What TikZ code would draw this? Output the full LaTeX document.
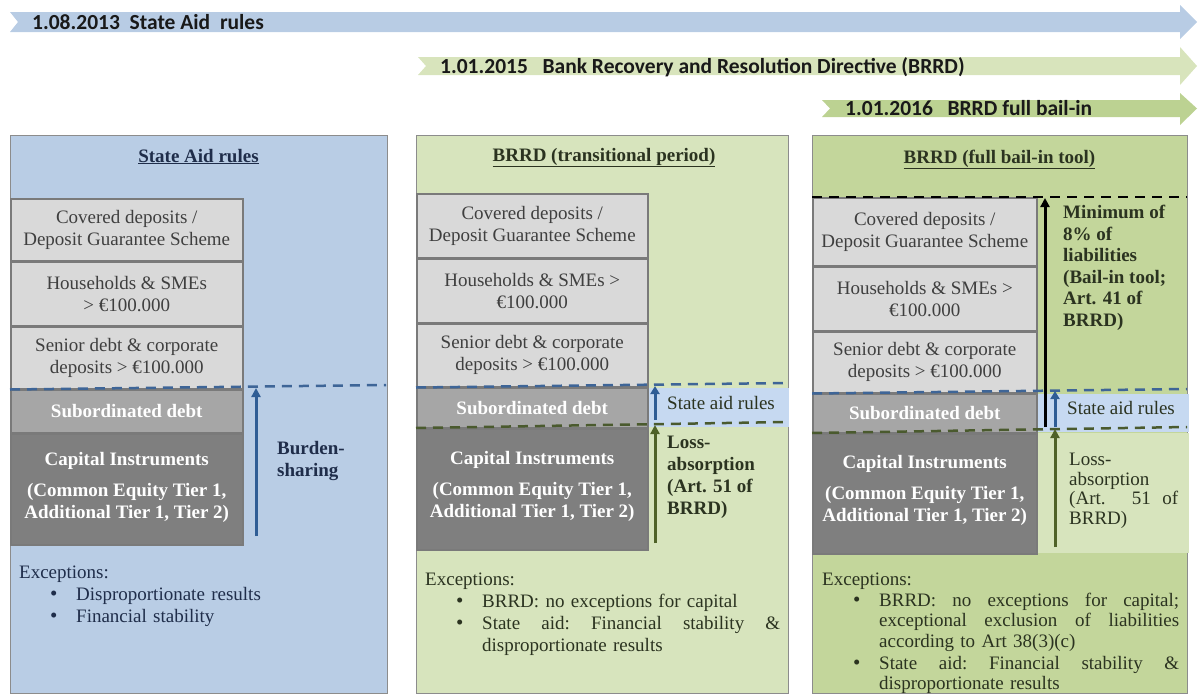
\documentclass[tikz,border=0pt]{standalone}
\usepackage{fontspec}
\setmainfont{Liberation Serif}
\newfontfamily\bannerfont{Carlito}
\usetikzlibrary{arrows.meta}
\definecolor{pblue}{HTML}{B9CDE5}
\definecolor{pgreen}{HTML}{D7E4BD}
\definecolor{pgreenD}{HTML}{C3D69B}
\definecolor{bandblue}{HTML}{C6D9F1}
\definecolor{lgray}{HTML}{D9D9D9}
\definecolor{mgray}{HTML}{A6A6A6}
\definecolor{dgray}{HTML}{7F7F7F}
\definecolor{bord}{HTML}{7A7A7A}
\definecolor{pbord}{HTML}{8C8C8C}
\definecolor{stacktext}{HTML}{3F3F3F}
\definecolor{navytext}{HTML}{1F2D4A}
\definecolor{olivetext}{HTML}{2B3320}
\definecolor{dashblue}{HTML}{3E6597}
\definecolor{dashgreen}{HTML}{4A5A2E}
\definecolor{arrowblue}{HTML}{2F5D95}
\definecolor{arrowgreen}{HTML}{4F6228}
\definecolor{ban1}{HTML}{B8CCE4}
\definecolor{ban2}{HTML}{D8E4BC}
\definecolor{ban3}{HTML}{BCD292}
\newcommand\exitem[2]{\par\noindent\hbox to 57pt{\hskip 31pt\relax{\fontsize{21}{22}\selectfont\textbullet}\hfil}\parbox[t]{#1}{\hyphenpenalty=10000\relax\tolerance=10000\relax\strut #2\strut}}
\newcommand\exstart{\lineskip=0pt\relax\lineskiplimit=0pt\relax}
\newcommand\jline[2]{\hbox to #1{#2}}
\begin{document}
\begin{tikzpicture}[x=1pt,y=-1pt,
  bodyfont/.style={font=\fontsize{19}{22}\selectfont},
  bantext/.style={font=\bannerfont\bfseries\fontsize{21.5}{24}\selectfont, text=black!90, inner sep=0pt},
  panelbox/.style={draw=pbord, line width=1.2pt, anchor=north west, inner sep=0pt},
  titletext/.style={font=\bfseries\fontsize{19}{22}\selectfont, inner sep=0pt, anchor=base},
  layerbox/.style={bodyfont, draw=bord, line width=1.5pt, align=center, anchor=north west, inner sep=0pt},
  ltbox/.style={layerbox, fill=lgray, text=stacktext},
  subbox/.style={layerbox, fill=mgray, text=white, font=\bfseries\fontsize{19}{22}\selectfont},
  capbox/.style={layerbox, fill=dgray, text=white, font=\bfseries\fontsize{19}{22}\selectfont},
  bandbox/.style={fill=bandblue, anchor=north west, inner sep=0pt},
  dline/.style={line width=2.5pt, dash pattern=on 10pt off 7pt},
  upar/.style={line width=3pt, -{Triangle[length=9pt,width=9pt]}},
  notetext/.style={bodyfont, inner sep=0pt, anchor=north west, align=left},
  exctext/.style={bodyfont, inner sep=0pt, anchor=north west}
]
\useasboundingbox (0,0) rectangle (1198,696);

% ---------- timeline banners ----------
\fill[ban1] (10,12) -- (1180,12) -- (1180,5) -- (1197,22) -- (1180,39) -- (1180,32) -- (10,32) -- (18,22) -- cycle;
\node[bantext, anchor=base west] (b1) at (32,29) {1.08.2013\ \ State Aid\ \ rules};
\fill[ban2] (418,57) -- (1180,57) -- (1180,47) -- (1197,66) -- (1180,85) -- (1180,75) -- (418,75) -- (426,66) -- cycle;
\node[bantext, anchor=base west] (b2) at (440,73) {1.01.2015\ \ \ Bank Recovery and Resolution Directive (BRRD)};
\fill[ban3] (822,100) -- (1180,100) -- (1180,93) -- (1197,108.5) -- (1180,125) -- (1180,117) -- (822,117) -- (830,108.5) -- cycle;
\node[bantext, anchor=base west] (b3) at (845,115.5) {1.01.2016\ \ \ BRRD full bail-in};

% ---------- panel 1 : State Aid rules ----------
\node[panelbox, fill=pblue, minimum width=377pt, minimum height=558pt] (P1) at (10,135) {};
\node[titletext, text=navytext] (t1) at (198.5,162) {\underline{State Aid rules}};
\node[ltbox, minimum width=232pt, minimum height=62pt] (p1c) at (10,198) {Covered deposits /\\Deposit Guarantee Scheme};
\node[ltbox, minimum width=232pt, minimum height=63pt] (p1h) at (p1c.south west) {Households \& SMEs\\> €100.000};
\node[ltbox, minimum width=232pt, minimum height=62pt] (p1s) at (p1h.south west) {Senior debt \& corporate\\deposits > €100.000};
\node[subbox, minimum width=232pt, minimum height=42pt] (p1d) at (p1s.south west) {Subordinated debt};
\node[capbox, minimum width=232pt, minimum height=111pt] (p1k) at (p1d.south west) {Capital Instruments\\[9pt](Common Equity Tier 1,\\Additional Tier 1, Tier 2)\\[-14pt]\mbox{}};
\coordinate (d1a) at (p1s.south west);
\coordinate (d1b) at (386,385);
\draw[dline, draw=dashblue] (d1a) -- (d1b);
\coordinate (a1s) at (256,536);
\coordinate (a1e) at (256,388);
\draw[upar, draw=arrowblue, fill=arrowblue] (a1s) -- (a1e);
\node[notetext, text=navytext, font=\bfseries\fontsize{19}{22}\selectfont] (bs) at (277,441) {Burden-\\sharing};
\node[exctext, text=navytext, text width=360pt] (e1) at (19,566) {\exstart Exceptions:\exitem{300pt}{Disproportionate results}\exitem{300pt}{Financial stability}};

% ---------- panel 2 : BRRD transitional ----------
\node[panelbox, fill=pgreen, minimum width=372pt, minimum height=558pt] (P2) at (416,135) {};
\node[titletext, text=olivetext] (t2) at (604,161) {\underline{BRRD (transitional period)}};
\node[ltbox, minimum width=231pt, minimum height=64pt] (p2c) at (416,193) {Covered deposits /\\Deposit Guarantee Scheme};
\node[ltbox, minimum width=231pt, minimum height=63pt] (p2h) at (p2c.south west) {Households \& SMEs >\\€100.000};
\node[ltbox, minimum width=231pt, minimum height=63pt] (p2s) at (p2h.south west) {Senior debt \& corporate\\deposits > €100.000};
\node[subbox, minimum width=231pt, minimum height=39pt] (p2d) at (p2s.south west) {Subordinated debt};
\node[capbox, minimum width=231pt, minimum height=121pt] (p2k) at (p2d.south west) {Capital Instruments\\[9pt](Common Equity Tier 1,\\Additional Tier 1, Tier 2)\\[-12pt]\mbox{}};
\node[bandbox, minimum width=140pt, minimum height=39pt] (bb2) at (p2s.south east) {};
\node[bodyfont, anchor=west, inner sep=0pt, text=olivetext] (sa2) at (667,402.5) {State aid rules};
\draw[dline, draw=dashblue] (p2s.south west) -- (788,383);
\draw[dline, draw=dashgreen] (p2d.south west) -- (788,422);
\coordinate (a2s) at (655,420);
\coordinate (a2e) at (655,386);
\draw[line width=3pt, draw=arrowblue, -{Triangle[length=8pt,width=9pt]}] (a2s) -- (a2e);
\coordinate (a3s) at (655,543);
\coordinate (a3e) at (655,425);
\draw[upar, draw=arrowgreen] (a3s) -- (a3e);
\node[notetext, text=olivetext, font=\bfseries\fontsize{19}{22}\selectfont] (la2) at (667,436) {Loss-\\absorption\\(Art. 51 of\\BRRD)};
\node[exctext, text=olivetext, text width=355pt] (e2) at (425,573) {\exstart Exceptions:\exitem{298pt}{BRRD: no exceptions for capital}\exitem{298pt}{\jline{298pt}{State\hfill aid:\hfill Financial\hfill stability\hfill \&}\\disproportionate results}};

% ---------- panel 3 : BRRD full bail-in ----------
\node[panelbox, fill=pgreenD, minimum width=375pt, minimum height=558pt] (P3) at (812,135) {};
\node[titletext, text=olivetext] (t3) at (999.5,163) {\underline{BRRD (full bail-in tool)}};
\node[ltbox, minimum width=224pt, minimum height=68pt] (p3c) at (812,197) {Covered deposits /\\Deposit Guarantee Scheme};
\node[ltbox, minimum width=224pt, minimum height=63pt] (p3h) at (p3c.south west) {Households \& SMEs >\\€100.000};
\node[ltbox, minimum width=224pt, minimum height=61pt] (p3s) at (p3h.south west) {Senior debt \& corporate\\deposits > €100.000};
\node[subbox, minimum width=224pt, minimum height=38pt] (p3d) at (p3s.south west) {Subordinated debt};
\node[capbox, minimum width=224pt, minimum height=120pt] (p3k) at (p3d.south west) {Capital Instruments\\[9pt](Common Equity Tier 1,\\Additional Tier 1, Tier 2)\\[-12pt]\mbox{}};
\node[bandbox, minimum width=151pt, minimum height=38pt] (bb3) at (p3s.south east) {};
\node[fill=pgreen, anchor=north west, inner sep=0pt, minimum width=151pt, minimum height=120pt] (lr3) at (p3d.south east) {};
\node[bodyfont, anchor=west, inner sep=0pt, text=olivetext] (sa3) at (1067,408) {State aid rules};
\draw[dline, draw=black] (p3c.north west) -- (1187,197);
\draw[dline, draw=dashblue] (p3s.south west) -- (1187,389);
\draw[dline, draw=dashgreen] (p3d.south west) -- (1187,427);
\coordinate (a4s) at (1045,427);
\coordinate (a4e) at (1045,198);
\draw[upar, draw=black] (a4s) -- (a4e);
\coordinate (a5s) at (1055,427);
\coordinate (a5e) at (1055,391);
\draw[line width=3pt, draw=arrowblue, -{Triangle[length=8pt,width=9pt]}] (a5s) -- (a5e);
\coordinate (a6s) at (1055,547);
\coordinate (a6e) at (1055,429);
\draw[upar, draw=arrowgreen] (a6s) -- (a6e);
\node[notetext, text=olivetext, font=\bfseries\fontsize{19}{21.6}\selectfont] (mn3) at (1063,205) {Minimum of\\8\% of\\liabilities\\(Bail-in tool;\\Art. 41 of\\BRRD)};
\node[notetext, text=olivetext, font=\fontsize{19}{19.5}\selectfont] (la3) at (1069,453) {Loss-\\absorption\\\makebox[109pt][s]{(Art. 51 of}\\BRRD)};
\node[exctext, text=olivetext, text width=356pt, font=\fontsize{19}{20.6}\selectfont] (e3) at (822,573) {\exstart Exceptions:\exitem{300pt}{\jline{300pt}{BRRD:\hfill no\hfill exceptions\hfill for\hfill capital;}\\\jline{300pt}{exceptional\hfill exclusion\hfill of\hfill liabilities}\\according to Art 38(3)(c)}\exitem{300pt}{\jline{300pt}{State\hfill aid:\hfill Financial\hfill stability\hfill \&}\\disproportionate results}};
\end{tikzpicture}
\end{document}
